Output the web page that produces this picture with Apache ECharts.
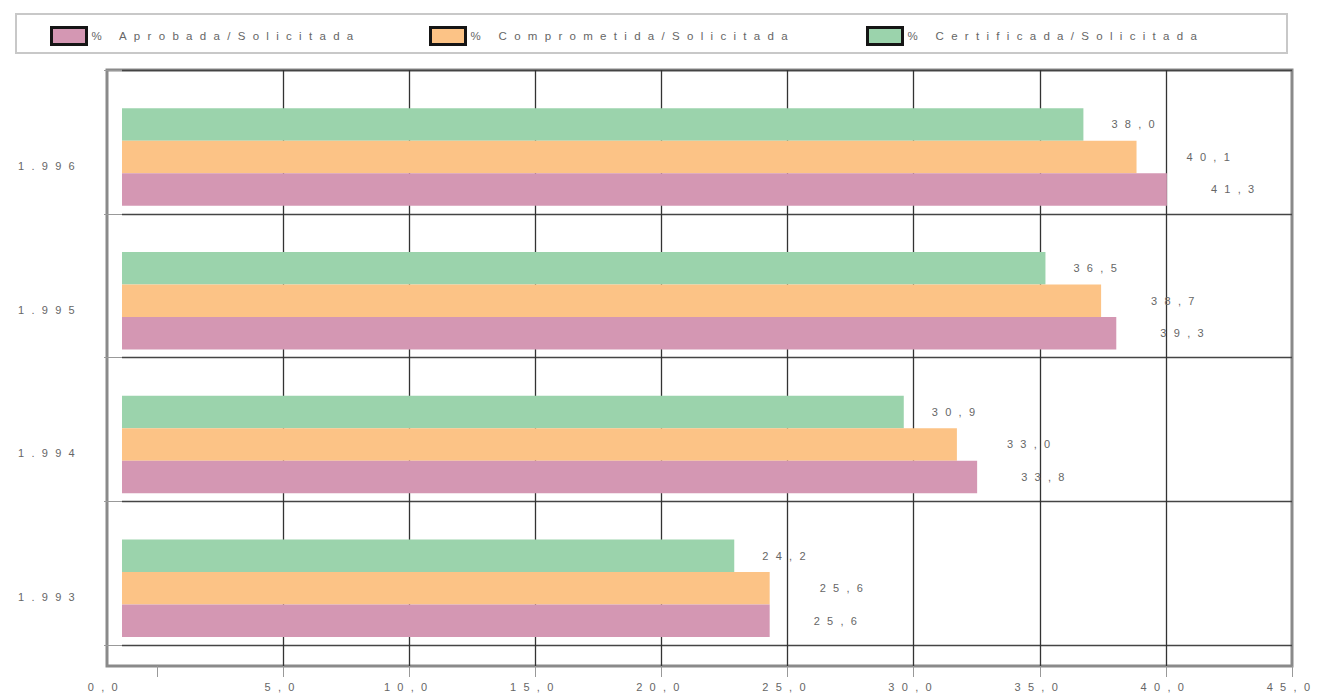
<!DOCTYPE html>
<html><head><meta charset="utf-8">
<script src="https://cdn.jsdelivr.net/npm/echarts@6/dist/echarts.min.js"></script>
<style>
html,body{margin:0;padding:0;background:#fff;}
#main{width:1320px;height:699px;}
#main text{letter-spacing:7.3px !important;}
</style></head>
<body><div id="main"></div>
<script>
const categories = ['1.993', '1.994', '1.995', '1.996'];
const seriesNames = ['% Aprobada/Solicitada', '% Comprometida/Solicitada', '% Certificada/Solicitada'];
const aprobada = [25.6, 33.8, 39.3, 41.3];
const comprometida = [25.6, 33.0, 38.7, 40.1];
const certificada = [24.2, 30.9, 36.5, 38.0];
const xMin = 0, xMax = 45, xStep = 5;

const colors = ['#D497B3', '#FCC386', '#9BD3AC'];
const labelDist = [44, 50, 28];
const values = [aprobada, comprometida, certificada];
const fmt = v => v.toFixed(1).replace('.', ',');
const txt = {color: '#666', fontSize: 11, fontFamily: 'Liberation Sans, Arial, sans-serif'};

// ECharts stacks horizontal bar series top-down, so draw them in reverse
const order = [2, 1, 0];

const chart = echarts.init(document.getElementById('main'), null, {renderer: 'svg'});
chart.setOption({
  animation: false,
  grid: [
    {left: 107, right: 28, top: 70, bottom: 33, show: true, backgroundColor: '#fff', borderColor: '#8a8a8a', borderWidth: 3},
    {left: 157, right: 28, top: 70, bottom: 33},
    {left: 122, right: 28, top: 70, bottom: 54},
    {left: 122, right: 59.5, top: 85, bottom: 39}
  ],
  xAxis: [
    {gridIndex: 0, type: 'value', show: false},
    {gridIndex: 1, type: 'value', min: xMin, max: xMax, interval: xStep,
      axisLine: {show: false},
      axisTick: {show: true, inside: false, length: 11, lineStyle: {color: '#999'}},
      axisLabel: {margin: 15, alignMinLabel: 'right', ...txt,
        formatter: v => v === xMin ? '{m|' + fmt(v) + '}' : fmt(v),
        rich: {m: {...txt, padding: [0, 32, 0, 0]}}},
      splitLine: {show: true, showMinLine: false, showMaxLine: false, lineStyle: {color: '#333', width: 1.3}}},
    {gridIndex: 2, type: 'value', show: false},
    {gridIndex: 3, type: 'value', min: xMin, max: xMax, show: false}
  ],
  yAxis: [
    {gridIndex: 0, type: 'value', show: false},
    {gridIndex: 1, type: 'value', show: false},
    {gridIndex: 2, type: 'category', data: categories, offset: 15,
      axisLine: {show: false},
      axisTick: {show: true, length: 18, lineStyle: {color: '#999'}},
      axisLabel: {show: false},
      splitLine: {show: true, lineStyle: {color: '#444', width: 1.3}}},
    {gridIndex: 3, type: 'category', data: categories,
      axisLine: {show: false}, axisTick: {show: false},
      axisLabel: {margin: 40, verticalAlign: 'top', lineHeight: 18, ...txt}}
  ],
  legend: seriesNames.map((n, i) => ({
    data: [n], left: [50, 429, 866][i], top: 26, padding: 0,
    icon: 'rect', itemWidth: 35, itemHeight: 17,
    itemStyle: {borderColor: '#151515', borderWidth: 3},
    textStyle: {...txt, fontSize: 11.5}, selectedMode: false
  })),
  graphic: [{type: 'rect', shape: {x: 16, y: 14, width: 1271, height: 39},
    style: {fill: 'none', stroke: '#c8c8c8', lineWidth: 2}, silent: true}],
  series: order.map(i => ({
    name: seriesNames[i], type: 'bar', xAxisIndex: 3, yAxisIndex: 3,
    data: values[i], barWidth: 32.5, barGap: '0%',
    itemStyle: {color: colors[i]},
    label: {show: true, position: 'right', distance: labelDist[i], formatter: p => fmt(p.value), ...txt}
  }))
});
</script></body></html>
